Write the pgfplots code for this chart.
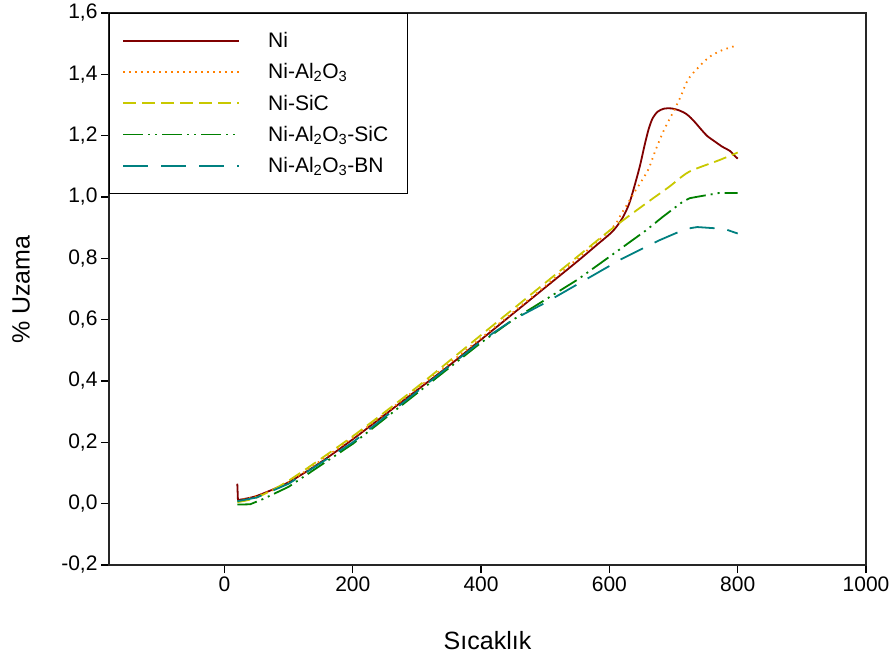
\documentclass[border=0pt]{standalone}
\usepackage{fontspec}
\setmainfont{Liberation Sans}
\usepackage{pgfplots}
\pgfplotsset{compat=1.18}
\definecolor{cNi}{RGB}{128,0,0}
\definecolor{cAl}{RGB}{255,128,0}
\definecolor{cSiC}{RGB}{200,200,0}
\definecolor{cAlSiC}{RGB}{0,128,0}
\definecolor{cBN}{RGB}{0,128,128}
\newcommand{\ph}{\vphantom{Al\textsubscript{2}}}
\begin{document}
\begin{tikzpicture}[font=\fontsize{21}{25}\selectfont]
\begin{axis}[
  scale only axis, width=757pt, height=552pt,
  xmin=-180, xmax=1000, ymin=-0.2, ymax=1.6,
  xtick={0,200,400,600,800,1000},
  ytick={-0.2,0,0.2,0.4,0.6,0.8,1.0,1.2,1.4,1.6},
  xtick pos=left, ytick pos=left, tick align=outside,
  major tick length=8pt,
  axis line style={line width=1.3pt, black!85},
  tick style={line width=1.2pt, black},
  /pgf/number format/assume math mode=true,
  y tick label style={/pgf/number format/.cd, fixed, fixed zerofill, precision=1, use comma},
  x tick label style={/pgf/number format/.cd, fixed, precision=0, 1000 sep={}},
  xlabel={Sıcaklık}, ylabel={\% Uzama},
  x label style={at={(axis description cs:0.5,-0.137)}, anchor=center, font=\fontsize{25}{30}\selectfont},
  y label style={at={(axis description cs:-0.116,0.499)}, anchor=center, font=\fontsize{25}{30}\selectfont},
  legend cell align=left,
  legend style={at={(0,1)}, anchor=north west, draw=black, line width=0.8pt,
    inner xsep=13pt, inner ysep=16pt, row sep=8.5pt,
    nodes={inner xsep=6pt, inner ysep=3pt}},
  legend image code/.code={\draw[#1] (0pt,0pt) -- (116pt,0pt); \path (138pt,0pt);},
  every axis plot/.append style={line width=1.8pt},
]
\addplot[cNi, smooth, tension=0.45, line join=round] coordinates {
(21,0.012)(50,0.025)(100,0.07)(150,0.135)(200,0.21)(250,0.29)(300,0.37)(350,0.45)(400,0.535)(450,0.62)(500,0.705)(550,0.79)(580,0.843)(605,0.888)
(620,0.93)(631,0.979)(641,1.05)(648,1.105)(655,1.17)(661,1.22)(667,1.255)(675,1.278)(685,1.288)(696,1.289)(708,1.283)(719,1.272)(727,1.258)(735,1.24)(744,1.218)(753,1.198)(765,1.18)(776,1.164)(788,1.15)(796,1.133)(800,1.125)};
\addlegendentry{\ph Ni}
\addplot[cAl, dash pattern=on 1.5pt off 4.5pt, smooth, tension=0.45] coordinates {
(20,0.01)(50,0.025)(100,0.07)(200,0.215)(300,0.375)(400,0.54)(500,0.71)(600,0.89)(620,0.95)(641,1.022)(660,1.087)(672,1.153)(685,1.218)(701,1.283)(711,1.327)(722,1.381)(737,1.419)(756,1.457)(776,1.479)(800,1.495)};
\addlegendentry{\ph Ni-Al\textsubscript{2}O\textsubscript{3}}
\addplot[cSiC, dash pattern=on 13pt off 6pt, smooth, tension=0.45] coordinates {
(20,0.005)(50,0.02)(100,0.075)(200,0.22)(300,0.38)(400,0.55)(500,0.72)(600,0.89)(657,0.979)(693,1.033)(724,1.082)(771,1.12)(800,1.145)};
\addlegendentry{\ph Ni-SiC}
\addplot[cAlSiC, dash pattern=on 20pt off 5pt on 2pt off 5pt on 2pt off 5pt] coordinates {
(20,-0.003)(40,-0.002)(60,0.015)(100,0.055)(200,0.195)(300,0.36)(400,0.525)(450,0.6)(500,0.665)(550,0.73)(600,0.805)(657,0.891)(683,0.935)(705,0.97)(714,0.984)(725,0.996)(735,1.0)(771,1.013)(800,1.013)};
\addlegendentry{\ph Ni-Al\textsubscript{2}O\textsubscript{3}-SiC}
\addplot[cBN, dash pattern=on 25pt off 13pt] coordinates {
(20,0.008)(50,0.02)(100,0.065)(200,0.2)(300,0.365)(400,0.53)(450,0.6)(500,0.655)(550,0.715)(620,0.799)(678,0.859)(719,0.896)(737,0.902)(779,0.896)(800,0.881)};
\addlegendentry{\ph Ni-Al\textsubscript{2}O\textsubscript{3}-BN}
\addplot[cNi, forget plot] coordinates {(20,0.065)(21,0.012)};
\end{axis}
\path (-109pt,-97pt) rectangle (784pt,565pt);
\end{tikzpicture}
\end{document}
